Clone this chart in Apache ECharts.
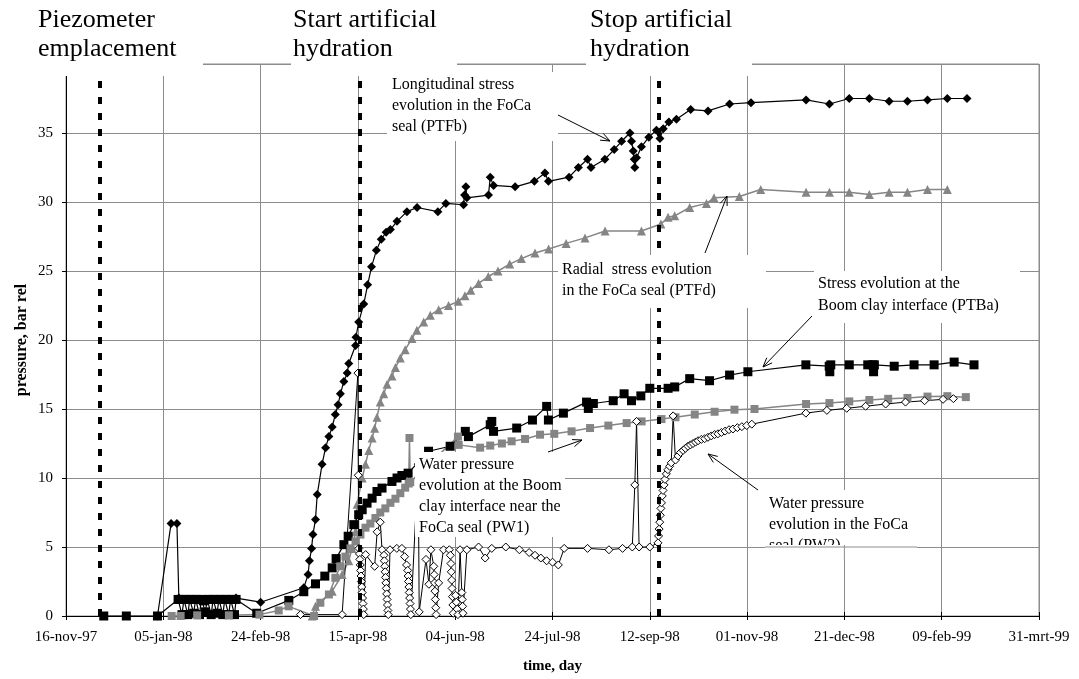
<!DOCTYPE html>
<html><head><meta charset="utf-8">
<script src="https://cdn.jsdelivr.net/npm/echarts@6/dist/echarts.min.js"></script>
<style>html,body{margin:0;padding:0;background:#fff}#c{width:1079px;height:679px}</style>
</head><body><div id="c"></div>
<script>
// x values: days since 16-nov-97
const xTickLabels = ['16-nov-97','05-jan-98','24-feb-98','15-apr-98','04-jun-98','24-jul-98','12-sep-98','01-nov-98','21-dec-98','09-feb-99','31-mrt-99'];
const yTickLabels = ['0','5','10','15','20','25','30','35',''];
const eventDays = [17.5, 151, 304.5];

const PTFb = [[47,0],[54,6.7],[57,6.7],[58,1.3],[87.4,1.3],[100,1.0],[122.2,2.05],[124.4,3.0],[125.1,4.0],[126.2,4.9],[126.9,5.9],[128.2,7.0],[129.1,8.8],[131.6,11.0],[133.4,12.2],[135.1,13.0],[136.8,13.7],[138.4,14.6],[139.8,15.3],[141,16.1],[142.8,17.0],[144.5,17.6],[145.3,18.3],[148.8,19.6],[149,20.2],[150.4,21.3],[153,22.6],[155,24.0],[157,25.3],[159.5,26.5],[162,27.3],[164.5,27.8],[166.7,28.0],[170.1,28.6],[175.2,29.3],[180.4,29.6],[191.1,29.3],[195.2,29.9],[204.3,29.8],[204.8,30.5],[205.5,31.1],[206,30.3],[217.1,30.5],[218,31.8],[219.7,31.2],[230.8,31.1],[240.7,31.5],[246.1,32.1],[247.9,31.5],[258.5,31.8],[263.3,32.5],[268,33.1],[269.8,32.5],[276.9,33.1],[281.7,33.8],[285.5,34.4],[289.8,35.0],[290.6,34.4],[291.5,33.7],[292,33.1],[292.3,32.5],[293.2,33.2],[295.7,34.0],[299.5,34.7],[303.4,35.2],[305.2,34.6],[306.9,35.3],[309.8,35.8],[313.7,36.0],[321,36.7],[329.9,36.6],[341,37.1],[352,37.2],[380.3,37.4],[392.3,37.1],[402.5,37.5],[412.8,37.5],[423,37.3],[432.4,37.3],[442.7,37.4],[452.9,37.5],[463,37.5]];

const PTFd = [[126.5,0],[128.2,0.7],[136.8,1.8],[141.9,3.0],[145.3,4.0],[147,4.9],[148.8,6.1],[149.6,8.1],[152.2,10.0],[153.9,11.0],[155.6,12.0],[157.3,12.9],[158.6,13.6],[159.8,14.4],[161.5,15.5],[163.3,16.1],[165,16.8],[167.5,17.4],[169.3,18.0],[171.8,18.7],[174.3,19.3],[177.8,20.1],[180.3,20.7],[183.8,21.3],[187.2,21.8],[191.5,22.2],[196.6,22.5],[201.6,22.8],[205,23.2],[208,23.6],[212,24.1],[217,24.6],[222,25.0],[228,25.5],[234,25.9],[241,26.3],[248,26.6],[257,27.0],[266.7,27.4],[277,27.9],[295.7,27.9],[305.7,28.4],[309.4,28.9],[312.8,29.0],[320.5,29.6],[329.1,29.9],[333,30.3],[346,30.4],[357,30.9],[380.3,30.7],[392.3,30.7],[402.5,30.7],[412.8,30.55],[423,30.7],[432.4,30.7],[442.7,30.9],[452.9,30.9]];

const PTBa = [[19.4,0],[31,0],[47,0],[57.6,1.2],[58.6,1.2],[59.6,0.1],[60.6,1.2],[61.6,1.2],[62.6,0.1],[63.6,1.2],[64.6,1.2],[65.6,0.2],[66.6,1.2],[67.6,1.2],[68.6,0.1],[69.6,1.2],[70.6,1.1],[71.6,0.3],[72.6,1.2],[73.6,1.2],[74.6,0.1],[75.6,1.2],[76.6,1.2],[77.6,0.2],[78.6,1.2],[79.6,1.2],[80.6,0.1],[81.6,1.2],[82.6,1.2],[83.6,0.1],[84.6,1.2],[85.6,1.2],[86.6,0.1],[87.4,1.2],[98,0.2],[114.5,1.13],[122.2,1.76],[128.2,2.33],[133,2.89],[136.8,3.49],[138.8,4.16],[142.8,5.17],[145,5.78],[147.9,6.62],[150.4,7.34],[152.2,7.7],[154.7,8.18],[157.3,8.54],[159.8,9.02],[162.4,9.27],[167.5,9.75],[170.1,10.0],[172.6,10.18],[175.8,10.35],[186.3,11.94],[197.4,12.3],[205.2,13.38],[206.8,13.0],[218,13.86],[218.8,14.1],[219.7,13.38],[231.6,13.62],[239.7,14.2],[247,15.19],[247.9,14.2],[255.6,14.7],[267.5,15.5],[268.4,15.04],[271,15.4],[281.2,15.6],[286.8,16.1],[290.6,15.6],[295.4,15.95],[300,16.5],[309.4,16.5],[312.8,16.6],[320.5,17.2],[330.7,17.05],[341,17.46],[350.4,17.7],[380.2,18.2],[392.2,18.1],[392.5,17.7],[393,18.2],[402.5,18.2],[412,18.2],[414.5,18.2],[415,17.7],[415.4,18.2],[425.6,18.1],[435.8,18.2],[446.1,18.2],[456.4,18.4],[466.6,18.2]];

const PW1 = [[54.3,0],[58.9,0],[67.4,0.05],[83.7,0.05],[99.4,0.1],[109.3,0.4],[114.4,0.7],[127.5,0],[130.7,0.96],[135.1,1.56],[138.4,2.77],[141,3.6],[143.6,4.3],[146.2,4.9],[148.8,5.4],[151.3,5.9],[153.9,6.4],[156.4,6.7],[159,7.1],[161.5,7.5],[164.1,7.8],[166.7,8.2],[169.3,8.5],[171.8,8.9],[174.3,9.3],[176.1,9.6],[176.5,12.9],[176.9,9.7],[201.4,13.0],[201.8,12.4],[212.8,12.2],[218,12.35],[224,12.5],[229,12.66],[235.9,12.83],[243.6,13.14],[250.9,13.2],[259.8,13.38],[269.3,13.62],[278.7,13.8],[288.1,13.98],[295.8,14.1],[306,14.27],[313.2,14.4],[323.1,14.6],[333.3,14.8],[343.5,14.95],[353.8,15.0],[380.3,15.36],[392.3,15.43],[402.5,15.55],[412.8,15.65],[422.5,15.74],[432.4,15.8],[442.7,15.9],[452.9,15.93],[462.4,15.86]];

const PW2 = [[120.5,0.1],[141.9,0.1],[150,17.6],[150.2,10.2],[150.5,4.9],[150.8,4.5],[151,4.1],[151.2,3.7],[151.4,3.3],[151.6,2.9],[151.8,2.5],[152,2.1],[152.2,1.7],[152.4,1.3],[152.6,0.9],[152.8,0.5],[153,0.1],[154,4.45],[158.6,3.6],[159.9,6.1],[161.5,6.8],[162.4,4.8],[163.4,4.4],[163.6,4.0],[163.8,3.6],[164,3.2],[164.2,2.8],[164.4,2.4],[164.6,2.0],[164.8,1.6],[165,1.2],[165.2,0.8],[165.4,0.4],[165.6,0.1],[166.5,4.8],[170,4.9],[172.6,4.9],[174,4.3],[175,3.7],[175.6,3.3],[175.8,2.9],[176,2.5],[176.2,2.1],[176.4,1.7],[176.6,1.3],[176.8,0.9],[177,0.5],[177.2,0.1],[181,11.0],[181.5,0.3],[185,4.1],[186.5,2.3],[187.5,4.8],[189,3.6],[189.2,3.0],[189.4,2.4],[189.6,1.8],[189.8,1.2],[190,0.6],[190.2,0.1],[191.5,2.4],[194,4.8],[197,4.8],[197.5,4.4],[197.8,3.8],[198,3.2],[198.2,2.6],[198.4,2.0],[198.6,1.4],[198.8,0.8],[199,0.2],[200.2,1.5],[200.6,1.0],[201,0.5],[201.4,0.1],[202.5,4.8],[203.4,1.7],[203.6,1.2],[203.8,0.7],[204,0.2],[206,4.8],[212,5.0],[215.4,4.2],[218.8,4.9],[226,5.0],[233,4.8],[238,4.6],[241,4.4],[244,4.2],[247,4.0],[250,3.9],[253,3.7],[256,4.9],[268,4.9],[279,4.8],[286,4.9],[291,5.0],[292.3,9.5],[293.2,14.1],[294.5,5.0],[300,5.0],[304.2,5.3],[304.5,5.8],[304.8,6.3],[305.1,6.8],[305.4,7.3],[305.7,7.8],[306,8.2],[306.4,8.7],[306.8,9.1],[307.3,9.5],[307.8,9.9],[308.5,10.3],[309.3,10.6],[310.2,10.85],[311,11.1],[312,14.5],[313.2,11.3],[314.5,11.6],[315.8,11.85],[317.1,12.0],[318.3,12.15],[319.6,12.3],[320.9,12.4],[322.2,12.5],[323.5,12.6],[324.8,12.7],[326.5,12.8],[328.2,12.85],[329.9,12.95],[331.6,13.05],[333.3,13.15],[335,13.2],[336.8,13.3],[338.7,13.4],[340.7,13.5],[342.7,13.55],[345,13.65],[347.3,13.72],[349.8,13.8],[352.4,13.9],[380.2,14.7],[391,14.9],[401.2,15.05],[410.9,15.2],[421.2,15.36],[431.4,15.5],[441.2,15.6],[450.7,15.7],[456,15.75]];

const topNotes = ['Piezometer\nemplacement', 'Start artificial\nhydration', 'Stop artificial\nhydration'];
const seriesNotes = [
  'Longitudinal stress\nevolution in the FoCa\nseal (PTFb)',
  'Radial  stress evolution\nin the FoCa seal (PTFd)',
  'Stress evolution at the\nBoom clay interface (PTBa)',
  'Water pressure\nevolution at the Boom\nclay interface near the\nFoCa seal (PW1)',
  'Water pressure\nevolution in the FoCa\nseal (PW2)'
];

const FONT = '"Liberation Serif", "Times New Roman", serif';
const GRAY = '#858585';
const GRID = '#8c8c8c';
const chart = echarts.init(document.getElementById('c'), null, {renderer: 'canvas'});

const xCommon = {type: 'value', min: 0, max: 500, interval: 50};
chart.setOption({
  animation: false,
  backgroundColor: '#fff',
  grid: {left: 66, right: 40, top: 64, bottom: 62, show: true, borderColor: GRID, borderWidth: 1},
  xAxis: [Object.assign({}, xCommon, {
    position: 'bottom',
    name: 'time, day', nameLocation: 'middle', nameGap: 43, nameMoveOverlap: false,
    nameTextStyle: {fontFamily: FONT, fontSize: 15, fontWeight: 'bold', color: '#000'},
    axisLine: {show: true, onZero: false, lineStyle: {color: '#000', width: 1}},
    axisTick: {show: true, length: 4, lineStyle: {color: '#000'}},
    axisLabel: {fontFamily: FONT, fontSize: 15, color: '#000', margin: 14, showMinLabel: true, showMaxLabel: true,
      formatter: v => xTickLabels[Math.round(v / 50)] || ''},
    splitLine: {show: true, lineStyle: {color: GRID, width: 1}}
  }), Object.assign({}, xCommon, {
    position: 'bottom',
    axisLine: {show: false, onZero: false},
    axisTick: {show: true, inside: true, length: 4, lineStyle: {color: '#000'}},
    axisLabel: {show: false}, splitLine: {show: false}
  })],
  yAxis: {
    type: 'value', min: 0, max: 40, interval: 5,
    name: 'pressure, bar rel', nameLocation: 'middle', nameGap: 36, nameMoveOverlap: false,
    nameTextStyle: {fontFamily: FONT, fontSize: 16, fontWeight: 'bold', color: '#000'},
    axisLine: {show: true, lineStyle: {color: '#000', width: 1}},
    axisTick: {show: true, length: 4, lineStyle: {color: '#000'}},
    axisLabel: {fontFamily: FONT, fontSize: 15, color: '#000', margin: 13,
      formatter: v => yTickLabels[Math.round(v / 5)] || ''},
    splitLine: {show: true, lineStyle: {color: GRID, width: 1}}
  },
  series: [
    {name: 'PTFb', type: 'line', data: PTFb, symbol: 'diamond', symbolSize: 9,
      itemStyle: {color: '#000'}, lineStyle: {color: '#000', width: 1.2},
      markLine: {silent: true, symbol: 'none', label: {show: false},
        lineStyle: {color: '#000', width: 4, type: [7, 9]},
        data: eventDays.map(d => ({xAxis: d}))}},
    {name: 'PTFd', type: 'line', data: PTFd, symbol: 'triangle', symbolSize: 9,
      itemStyle: {color: GRAY}, lineStyle: {color: GRAY, width: 1.5}},
    {name: 'PTBa', type: 'line', data: PTBa, symbol: 'rect', symbolSize: 9,
      itemStyle: {color: '#000'}, lineStyle: {color: '#000', width: 1.2}},
    {name: 'PW1', type: 'line', data: PW1, symbol: 'rect', symbolSize: 8,
      itemStyle: {color: GRAY}, lineStyle: {color: GRAY, width: 1.5}},
    {name: 'PW2', type: 'line', data: PW2, symbol: 'diamond', symbolSize: 8,
      itemStyle: {color: '#fff', borderColor: '#000', borderWidth: 1}, lineStyle: {color: '#000', width: 1}}
  ]
});

function arrow(x1, y1, x2, y2) {
  const a = Math.atan2(y2 - y1, x2 - x1), L = 10, w = 0.38;
  return [
    {type: 'line', z: 110, shape: {x1, y1, x2, y2}, style: {stroke: '#000', lineWidth: 1}},
    {type: 'polyline', z: 110, shape: {points: [[x2 - L * Math.cos(a - w), y2 - L * Math.sin(a - w)], [x2, y2], [x2 - L * Math.cos(a + w), y2 - L * Math.sin(a + w)]]},
      style: {stroke: '#000', fill: null, lineWidth: 1}}
  ];
}
function box(x, y, w, h, z) {
  return {type: 'rect', z: z || 100, shape: {x, y, width: w, height: h}, style: {fill: '#fff', stroke: null}};
}
function txt(s, x, y, size, lh, z) {
  return {type: 'text', z: z || 105, x, y, style: {text: s, font: size + 'px ' + FONT, fill: '#000',
    textAlign: 'left', textVerticalAlign: 'top', lineHeight: lh}};
}

const p5 = chart.convertToPixel({xAxisIndex: 0, yAxisIndex: 0}, [0, 5])[1];
const xDec = chart.convertToPixel({xAxisIndex: 0, yAxisIndex: 0}, [400, 0])[0];

const g = [
  box(28, 0, 175, 76), box(291, 0, 166, 76), box(586, 0, 166, 76),
  txt(topNotes[0], 38, 6, 26, 29), txt(topNotes[1], 293, 6, 26, 29), txt(topNotes[2], 590, 6, 26, 29),
  box(387, 72, 171, 69), txt(seriesNotes[0], 392, 74, 16, 21),
  box(558, 255, 208, 53), txt(seriesNotes[1], 562, 259, 16, 21),
  box(814, 271, 206, 52), txt(seriesNotes[2], 818, 273, 16, 22),
  box(415, 452, 150, 85), txt(seriesNotes[3], 419, 454, 16, 21),
  box(765, 490, 152, 56), txt(seriesNotes[4], 769, 493, 16, 21),
  box(765, 545, 152, 16, 107),
  {type: 'line', z: 108, shape: {x1: 765, y1: p5, x2: 917, y2: p5}, style: {stroke: GRID, lineWidth: 1}},
  {type: 'line', z: 108, shape: {x1: xDec, y1: 545, x2: xDec, y2: 561}, style: {stroke: GRID, lineWidth: 1}}
].concat(arrow(558, 115, 610, 141), arrow(705, 253, 727, 196), arrow(812, 316, 763, 367),
         arrow(548, 452, 582, 440), arrow(758, 490, 708, 454));

chart.setOption({graphic: {elements: g}});
</script>
</body></html>
